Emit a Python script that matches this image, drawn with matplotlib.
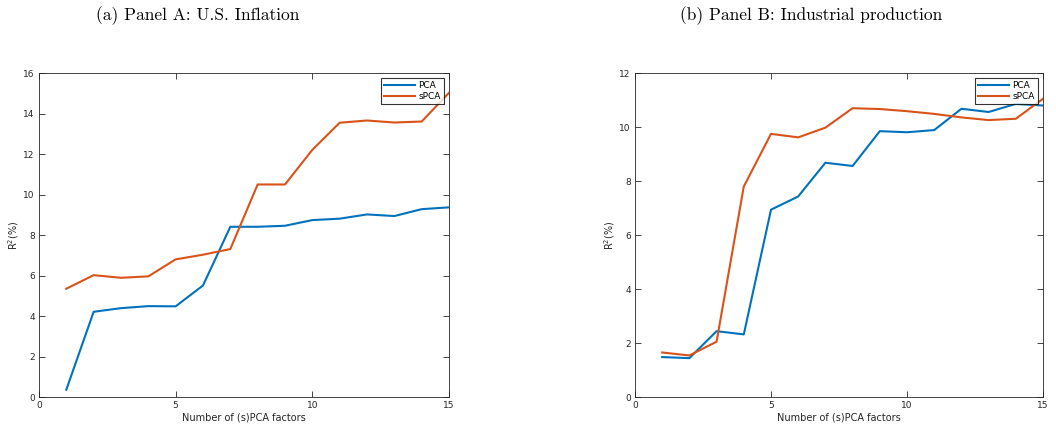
import matplotlib
matplotlib.use("Agg")
import matplotlib.pyplot as plt

factors = list(range(1, 16))

# Panel A: U.S. inflation
infl_pca = [0.36, 4.21, 4.39, 4.49, 4.48, 5.51, 8.41, 8.41, 8.46, 8.74, 8.81, 9.02, 8.94, 9.28, 9.37]
infl_spca = [5.35, 6.02, 5.89, 5.96, 6.80, 7.03, 7.31, 10.50, 10.50, 12.21, 13.55, 13.66, 13.56, 13.61, 15.03]

# Panel B: industrial production
ip_pca = [1.48, 1.44, 2.44, 2.32, 6.94, 7.43, 8.68, 8.56, 9.85, 9.81, 9.89, 10.68, 10.56, 10.86, 10.80]
ip_spca = [1.65, 1.54, 2.05, 7.80, 9.75, 9.62, 9.98, 10.70, 10.67, 10.59, 10.49, 10.36, 10.26, 10.31, 11.05]

titles = ["(a) Panel A: U.S. Inflation", "(b) Panel B: Industrial production"]

BLUE = "#0072BD"
ORANGE = "#D95319"
GREY = "#262626"

fig = plt.figure(figsize=(10.56, 4.33), dpi=100)


def panel(rect, pca, spca, ymax, ystep):
    ax = fig.add_axes(rect)
    ax.plot(factors, pca, color=BLUE, lw=1.5, label="PCA")
    ax.plot(factors, spca, color=ORANGE, lw=1.5, label="sPCA")
    ax.set_xlim(0, 15)
    ax.set_ylim(0, ymax)
    ax.set_xticks([0, 5, 10, 15])
    ax.set_yticks(range(0, ymax + 1, ystep))
    ax.tick_params(direction="in", length=4, width=0.6, top=True, right=True,
                   labelsize=6.5, colors=GREY, pad=3)
    for s in ax.spines.values():
        s.set_color(GREY)
        s.set_linewidth(0.6)
    ax.set_xlabel("Number of (s)PCA factors", fontsize=7, color=GREY, labelpad=2)
    ax.set_ylabel("R$^2$(%)", fontsize=7, color=GREY, labelpad=1.5)
    leg = ax.legend(loc="upper right", fontsize=6.5, frameon=True, fancybox=False,
                    handlelength=3.4, handletextpad=0.4, borderpad=0.35,
                    labelspacing=0.2, borderaxespad=0.55)
    leg.get_frame().set_edgecolor("black")
    leg.get_frame().set_linewidth(0.8)
    return ax


panel([0.0369, 0.0831, 0.3883, 0.748], infl_pca, infl_spca, 16, 2)
panel([0.6013, 0.0831, 0.3864, 0.748], ip_pca, ip_spca, 12, 2)

fig.text(0.187, 0.965, titles[0], ha="center", va="center", family="cmr10", fontsize=12.5)
fig.text(0.768, 0.965, titles[1], ha="center", va="center", family="cmr10", fontsize=12.5)

fig.savefig("out.png", dpi=100)
